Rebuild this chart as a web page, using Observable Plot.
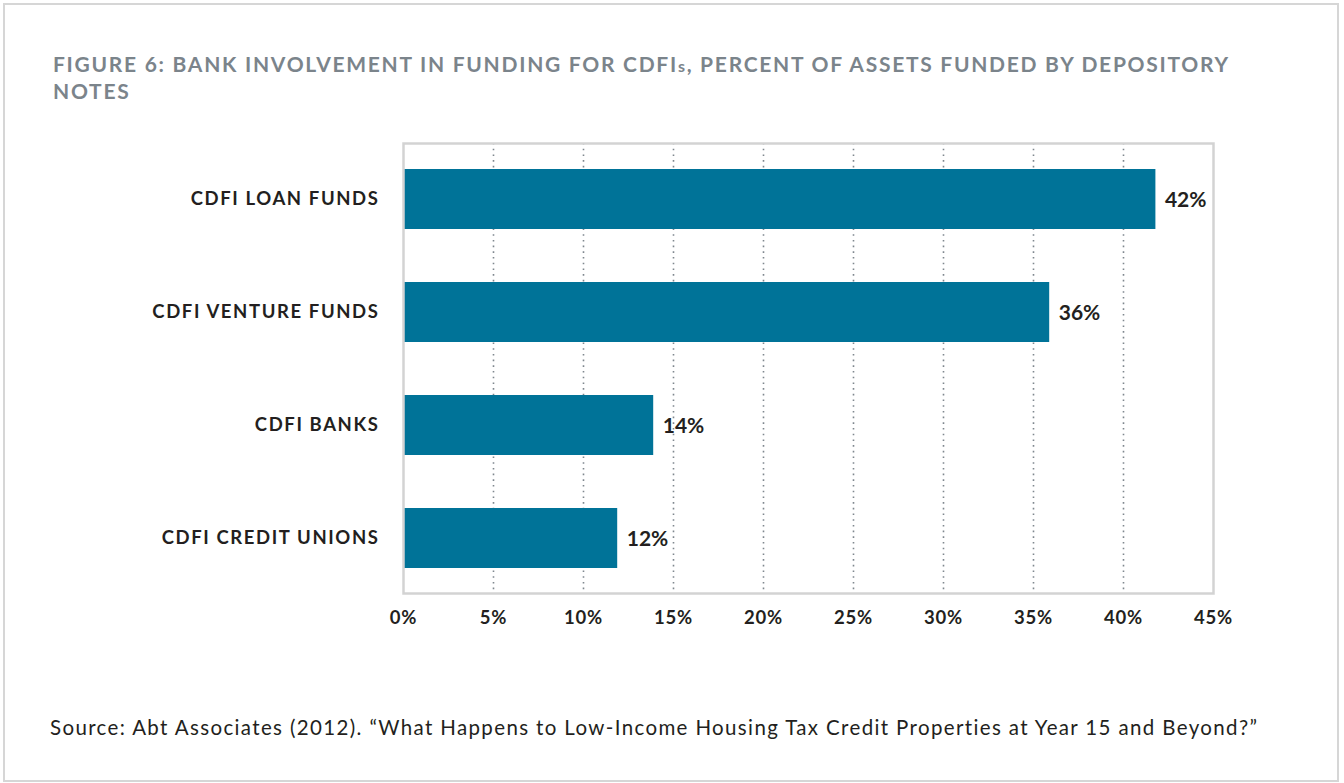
<!DOCTYPE html>
<html>
<head>
<meta charset="utf-8">
<script src="https://cdn.jsdelivr.net/npm/d3@7"></script>
<script src="https://cdn.jsdelivr.net/npm/@observablehq/plot@0.6"></script>
<style>
  html, body { margin: 0; padding: 0; background: #fff; }
  #page { position: relative; width: 1344px; height: 783px; overflow: hidden; font-family: Lato, "Open Sans", sans-serif; }
  #border { position: absolute; left: 3px; top: 3px; width: 1336px; height: 779px; border: 2px solid #d6d6d6; box-sizing: border-box; }
  #title { position: absolute; left: 53px; top: 50.5px; font-size: 21px; font-weight: 700; color: #7b848b; line-height: 25px; letter-spacing: 1.72px; white-space: nowrap; }
  #chart { position: absolute; left: 0; top: 120px; }
  #source { position: absolute; left: 50px; top: 715px; font-size: 20.5px; line-height: 24.6px; color: #231f20; font-weight: 400; letter-spacing: 1.36px; white-space: nowrap; }
</style>
</head>
<body>
<div id="page">
  <div id="border"></div>
  <div id="title">FIGURE 6: BANK INVOLVEMENT IN FUNDING FOR CDFI<span style="font-size:16px">s</span>, PERCENT OF ASSETS FUNDED BY DEPOSITORY<br>NOTES</div>
  <div id="chart"></div>
  <div id="source">Source: Abt Associates (2012). “What Happens to Low-Income Housing Tax Credit Properties at Year 15 and Beyond?”</div>
</div>
<script>
const categories = ["CDFI LOAN FUNDS", "CDFI VENTURE FUNDS", "CDFI BANKS", "CDFI CREDIT UNIONS"];
const values = [41.8, 35.9, 13.9, 11.9];
const valueLabels = ["42%", "36%", "14%", "12%"];
const xTicks = [0, 5, 10, 15, 20, 25, 30, 35, 40, 45];
const gridTicks = [5, 10, 15, 20, 25, 30, 35, 40];

const data = categories.map((c, i) => ({ category: c, value: values[i], label: valueLabels[i] }));

const chart = Plot.plot({
  width: 1344,
  height: 530,
  marginLeft: 403,
  marginRight: 131,
  marginTop: 23,
  marginBottom: 57,
  style: { fontFamily: "Lato, 'Open Sans', sans-serif", background: "transparent" },
  x: { domain: [0, 45], ticks: xTicks, tickFormat: d => d + "%", label: null },
  y: { domain: categories, paddingInner: 0.47, paddingOuter: 0.22, label: null },
  marks: [
    Plot.ruleX(gridTicks, { stroke: "#7f878e", strokeWidth: 1.6, strokeDasharray: "1.6,4.1", strokeOpacity: 1 }),
    Plot.barX(data, { x: "value", y: "category", fill: "#007398" }),
    Plot.text(data, { x: "value", y: "category", text: "label", textAnchor: "start", dx: 9, dy: 1, fontSize: 21, fontWeight: 700, fill: "#231f20" }),
    Plot.frame({ stroke: "#d3d3d3", strokeWidth: 2.5 }),
    Plot.axisX({ ticks: xTicks, tickFormat: d => d + "%", tickSize: 0, tickPadding: 17, fontSize: 18.5, fontWeight: 700, color: "#231f20", label: null }),
    Plot.axisY({ tickSize: 0, tickPadding: 24, fontSize: 18.5, fontWeight: 700, color: "#231f20", label: null })
  ]
});
// widen letter spacing of axis labels to match the reference's wider typeface
chart.querySelectorAll("text").forEach(t => {
  const s = t.textContent;
  if (categories.includes(s)) t.style.letterSpacing = "1.6px";
  else if (xTicks.map(d => d + "%").includes(s) && !valueLabels.includes(s)) t.style.letterSpacing = "0.8px";
});
document.getElementById("chart").appendChild(chart);
</script>
</body>
</html>
